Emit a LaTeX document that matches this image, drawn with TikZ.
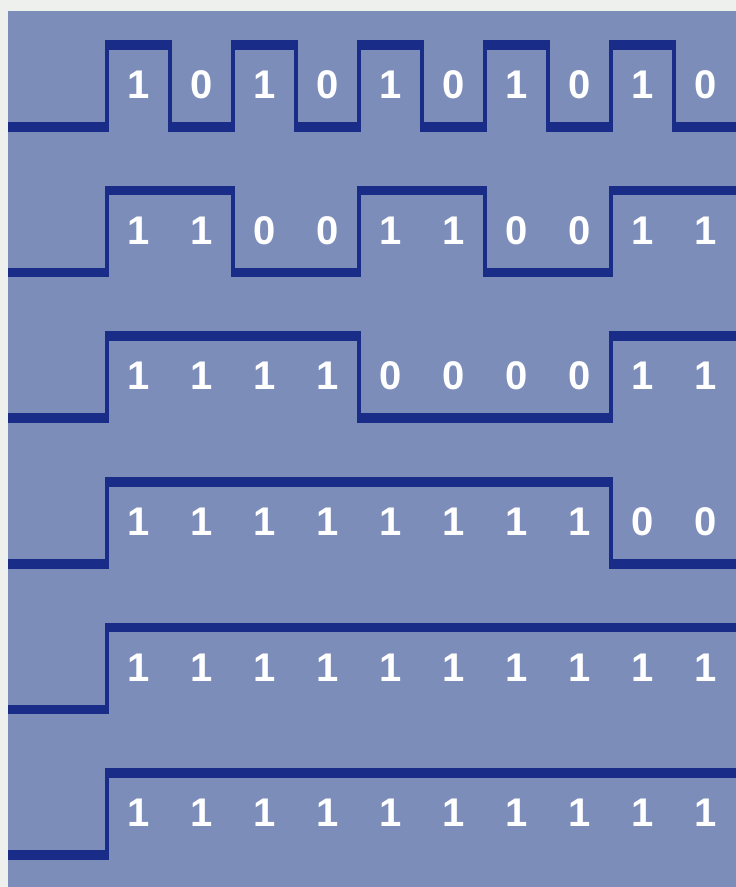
\documentclass[tikz,border=0pt]{standalone}
\usepackage{fontspec}
\setmainfont{Liberation Sans}
\definecolor{panelbg}{HTML}{7D8DBA}
\definecolor{tracenavy}{HTML}{182C88}
\definecolor{paperwhite}{HTML}{EEF0EE}
\begin{document}
\begin{tikzpicture}[x=1pt, y=-1pt,
    trace/.style={draw=tracenavy, line width=9.5pt},
    riser/.style={draw=tracenavy, line width=3.5pt},
    bit/.style={text=white, inner sep=0pt,
                font=\fontsize{40}{40}\selectfont\bfseries}]

  \useasboundingbox (0,0) rectangle (736,887);
  \fill[paperwhite] (0,0) rectangle (736,887);
  \fill[panelbg] (8,11) rectangle (736,887);

  % one waveform per row, bit cells 63 wide from x=107
  \foreach \row/\bits in {0/{1,0,1,0,1,0,1,0,1,0},
                          1/{1,1,0,0,1,1,0,0,1,1},
                          2/{1,1,1,1,0,0,0,0,1,1},
                          3/{1,1,1,1,1,1,1,1,0,0},
                          4/{1,1,1,1,1,1,1,1,1,1},
                          5/{1,1,1,1,1,1,1,1,1,1}} {
    \pgfmathsetmacro{\hi}{45+145.6*\row}
    \pgfmathsetmacro{\lo}{\hi+82}
    \draw[trace] (8,\lo) -- (108.75,\lo);
    \foreach \b [count=\i from 0, remember=\b as \prev (initially 0)] in \bits {
      \pgfmathsetmacro{\xa}{107+63*\i}
      \pgfmathsetmacro{\lvl}{ifthenelse(\b==1,\hi,\lo)}
      \draw[trace] (\xa-1.75,\lvl) -- (\xa+64.75,\lvl);
      \ifnum\b=\prev\else
        \draw[riser] (\xa,\hi) -- (\xa,\lo);
      \fi
      \node[bit] (b\row-\i) at (\xa+32,\hi+40) {\b};
    }
  }
\end{tikzpicture}
\end{document}
